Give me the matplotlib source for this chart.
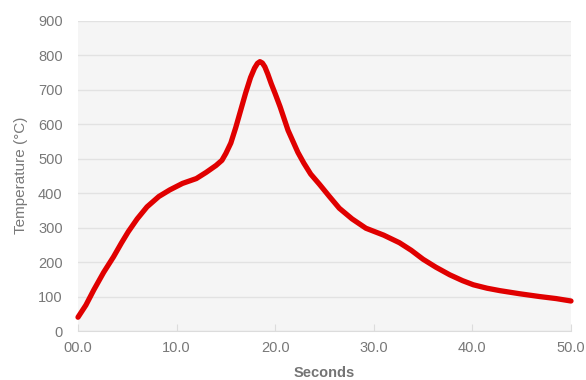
import matplotlib
matplotlib.use('Agg')
import matplotlib.pyplot as plt

# values
seconds = [0.0, 0.8, 1.6, 2.6, 3.6, 4.4, 5.1, 6.0, 7.0, 8.2, 9.3, 10.6, 12.0, 13.0, 14.0,
           14.6, 15.0, 15.5, 16.0, 16.5, 17.0, 17.5, 17.9, 18.2, 18.45, 18.7, 18.95,
           19.25, 19.6, 20.0, 20.5, 21.3, 22.3, 22.9, 23.6, 24.5, 25.5, 26.5, 27.8, 29.2,
           31.0, 32.6, 33.8, 35.0, 36.3, 37.7, 39.0, 40.1, 41.5, 42.8, 44.8, 46.8,
           48.5, 50.0]
temps = [40, 75, 119, 170, 215, 255, 288, 325, 360, 390, 409, 428, 442, 460, 480,
         495, 515, 545, 590, 640, 690, 735, 762, 776, 781, 777, 766,
         745, 717, 688, 650, 582, 518, 487, 455, 425, 390, 356, 325, 298,
         278, 256, 234, 208, 185, 163, 146, 134, 124, 117, 108, 100,
         94, 87]

xticks = [0, 10, 20, 30, 40, 50]
xtick_labels = ['00.0', '10.0', '20.0', '30.0', '40.0', '50.0']
yticks = [0, 100, 200, 300, 400, 500, 600, 700, 800, 900]

plt.rcParams['font.family'] = ['Liberation Sans', 'DejaVu Sans']

fig = plt.figure(figsize=(5.86, 3.8), dpi=100)
ax = fig.add_axes([0.1331, 0.1289, 0.8413, 0.8169])
ax.set_facecolor('#f5f5f5')

ax.plot(seconds, temps, color='#e00000', linewidth=3.8,
        solid_joinstyle='round', solid_capstyle='round', clip_on=False, zorder=3)

ax.set_xlim(0, 50)
ax.set_ylim(0, 900)
ax.set_xticks(xticks)
ax.set_xticklabels(xtick_labels)
ax.set_yticks(yticks)

ax.grid(axis='y', color='#e2e2e2', linewidth=1)
ax.set_axisbelow(True)
for s in ['top', 'right', 'left']:
    ax.spines[s].set_visible(False)
ax.spines['bottom'].set_color('#dcdcdc')

ax.tick_params(axis='x', direction='in', length=5, color='#dcdcdc',
               labelsize=10.5, labelcolor='#787878', pad=7)
ax.tick_params(axis='y', length=0, labelsize=10.5, labelcolor='#787878', pad=11)

ax.set_xlabel('Seconds', fontsize=10.5, fontweight='bold', color='#747474', labelpad=8)
ax.set_ylabel('Temperature (\u00b0C)', fontsize=11, color='#787878', labelpad=7)

plt.savefig('out.png', dpi=100)
